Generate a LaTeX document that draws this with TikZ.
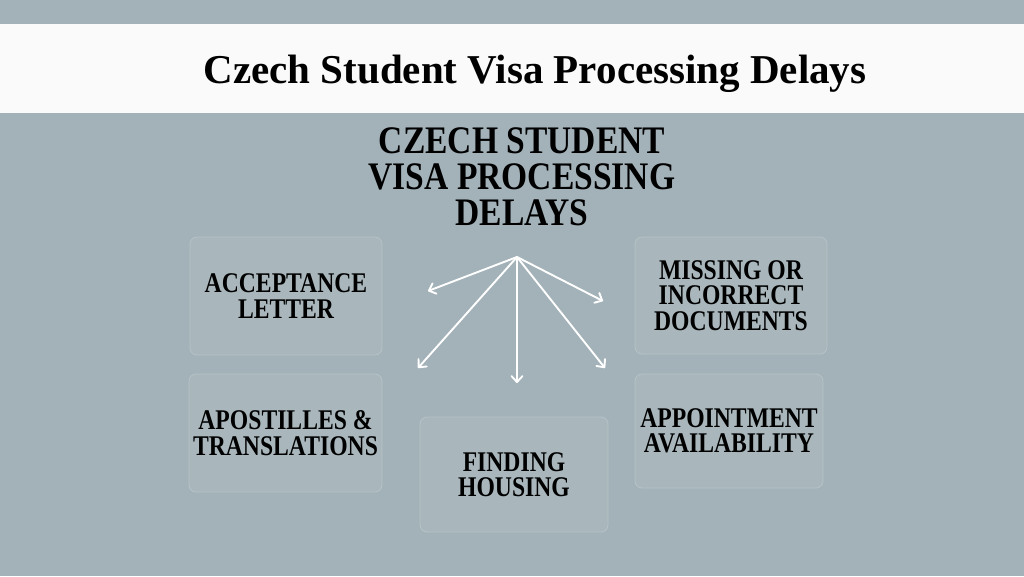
\documentclass[tikz,border=0pt]{standalone}
\usepackage{fontspec}
\setmainfont{Liberation Serif}
\newfontfamily\hf[FakeStretch=0.86]{Liberation Serif}
\newfontfamily\boxfont[FakeStretch=0.83]{Liberation Serif}
\newfontfamily\tf{Liberation Serif}
\usetikzlibrary{arrows.meta}
\definecolor{bgc}{HTML}{A3B2B9}
\definecolor{boxfill}{HTML}{A9B7BC}
\definecolor{boxline}{HTML}{B6C3C7}
\definecolor{band}{HTML}{FAFAFA}
\tikzset{
  reason/.style={draw=boxline, line width=0.8pt, fill=boxfill, rounded corners=7pt,
    align=center, inner sep=0pt, text=black,
    font=\boxfont\bfseries\fontsize{28.5}{25.5}\selectfont},
  spoke/.style={draw=white, line width=1.9pt, line cap=round,
    -{Straight Barb[length=6pt,width=11pt,round]}}
}
\begin{document}
\begin{tikzpicture}[x=1pt,y=-1pt]
\useasboundingbox (0,0) rectangle (1024,576);
\fill[bgc] (0,0) rectangle (1024,576);
\fill[band] (0,24) rectangle (1024,113);
\node[anchor=base, inner sep=0pt, font=\tf\bfseries\fontsize{41}{41}\selectfont] (title) at (535,83) {Czech Student Visa Processing Delays};
\node[anchor=north, inner sep=0pt, align=center, font=\hf\bfseries\fontsize{39}{36}\selectfont] (head) at (522,127) {CZECH STUDENT\\VISA PROCESSING\\DELAYS};

\node[reason, minimum width=192pt, minimum height=118pt] (acc) at (286,296) {ACCEPTANCE\\LETTER};
\node[reason, minimum width=192pt, minimum height=117pt] (mis) at (731,295.5) {MISSING OR\\INCORRECT\\DOCUMENTS};
\node[reason, minimum width=188pt, minimum height=114pt] (app) at (729,431) {APPOINTMENT\\AVAILABILITY};
\node[reason, minimum width=193pt, minimum height=118pt] (apo) at (285.5,433) {APOSTILLES \&\\TRANSLATIONS};
\node[reason, minimum width=188pt, minimum height=115pt] (hou) at (514,474.5) {FINDING\\HOUSING};

\coordinate (hub) at (517,257);
\coordinate (e1) at (428,291);
\coordinate (e2) at (418,368);
\coordinate (e3) at (517,383);
\coordinate (e4) at (605,368);
\coordinate (e5) at (603,301);
\foreach \e in {e1,e2,e3,e4,e5} \draw[spoke] (hub) -- (\e);
\end{tikzpicture}
\end{document}
